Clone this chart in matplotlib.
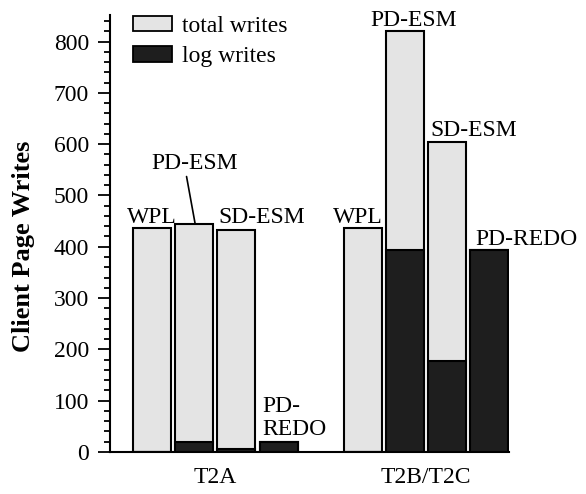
import matplotlib
matplotlib.use("Agg")
import matplotlib.pyplot as plt
from matplotlib.patches import Patch

plt.rcParams["font.family"] = "Liberation Serif"

# positions of the bars (two groups of four)
groups = ["T2A", "T2B/T2C"]
group_pos = [1.5, 6.5]
schemes = ["WPL", "PD-ESM", "SD-ESM", "PD-REDO"]
pos = [0, 1, 2, 3, 5, 6, 7, 8]
total_writes = [436, 445, 432, 19, 437, 821, 605, 394]
log_writes = [0, 19, 5, 19, 0, 394, 178, 394]

light = "#e4e4e4"
dark = "#1e1e1e"
fs = 17

fig = plt.figure(figsize=(5.86, 4.94), dpi=100)
ax = fig.add_axes([0.1877, 0.085, 0.681, 0.885])

ax.bar(pos, total_writes, width=0.9, color=light, edgecolor="black", linewidth=1.5, zorder=2)
ax.bar(pos, log_writes, width=0.9, color=dark, edgecolor="black", linewidth=1.5, zorder=3)

ax.set_xlim(-1.0, 8.47)
ax.set_ylim(0, 852)
ax.set_xticks(group_pos)
ax.set_xticklabels(groups, fontsize=fs)
ax.tick_params(axis="x", length=0, pad=11)
ax.set_yticks(range(0, 801, 100))
ax.set_yticks(range(0, 851, 20), minor=True)
ax.tick_params(axis="y", which="major", length=9, width=1.3, labelsize=fs, pad=6)
ax.tick_params(axis="y", which="minor", length=4.5, width=1.3)
for s in ["top", "right"]:
    ax.spines[s].set_visible(False)
for s in ["left", "bottom"]:
    ax.spines[s].set_linewidth(1.5)

ax.set_ylabel("Client Page Writes", fontsize=19, fontweight="bold")
ax.yaxis.set_label_coords(-0.188, 0.47)

ax.text(0, 447, "WPL", ha="center", va="baseline", fontsize=fs)
ax.annotate("PD-ESM", xy=(1.02, 445), xytext=(1.01, 552), ha="center", va="baseline",
            fontsize=fs, arrowprops=dict(arrowstyle="-", color="black", lw=1.2,
                                         shrinkA=0, shrinkB=0, relpos=(0.4, 0)))
ax.text(1.57, 447, "SD-ESM", ha="left", va="baseline", fontsize=fs)
ax.text(2.62, 78, "PD-", ha="left", va="baseline", fontsize=fs)
ax.text(2.62, 34, "REDO", ha="left", va="baseline", fontsize=fs)
ax.text(4.88, 447, "WPL", ha="center", va="baseline", fontsize=fs)
ax.text(6.21, 830, "PD-ESM", ha="center", va="baseline", fontsize=fs)
ax.text(6.6, 616, "SD-ESM", ha="left", va="baseline", fontsize=fs)
ax.text(7.67, 403, "PD-REDO", ha="left", va="baseline", fontsize=fs)

handles = [Patch(facecolor=light, edgecolor="black", linewidth=1.3, label="total writes"),
           Patch(facecolor=dark, edgecolor="black", linewidth=1.3, label="log writes")]
ax.legend(handles=handles, loc="upper left", bbox_to_anchor=(0.058, 0.998), frameon=False,
          fontsize=fs, handlelength=1.65, handleheight=0.65, handletextpad=0.42,
          labelspacing=0.38, borderpad=0, borderaxespad=0)

fig.savefig("out.png", dpi=100)
